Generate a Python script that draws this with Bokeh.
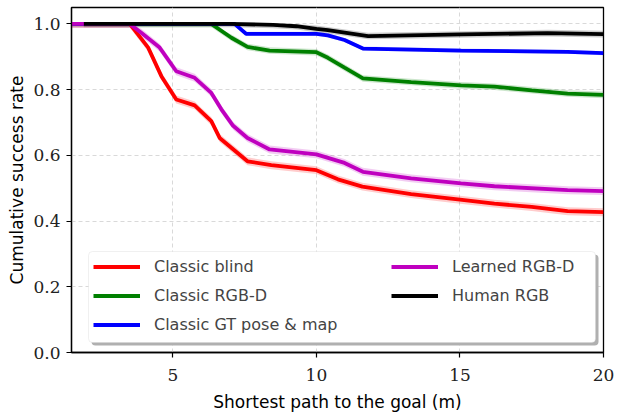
from bokeh.plotting import figure
from bokeh.models import Legend, LegendItem, BoxAnnotation, Range1d, FixedTicker, PrintfTickFormatter
from bokeh.embed import file_html
from bokeh.resources import INLINE

# ---- data ----
blind_x = [1.47, 3.5, 4.14, 4.6, 5.12, 5.76, 6.34, 6.63, 7.6, 8.43, 10.0, 10.75, 11.6, 13.3, 15.0, 16.2, 17.5, 18.75, 20.0]
blind_y = [1.0, 1.0, 0.928, 0.841, 0.77, 0.752, 0.704, 0.653, 0.582, 0.57, 0.555, 0.527, 0.505, 0.482, 0.465, 0.453, 0.443, 0.43, 0.427]

rgbd_x = [1.47, 6.34, 7.04, 7.6, 8.37, 10.0, 10.4, 10.98, 11.62, 13.3, 15.04, 16.2, 17.5, 18.75, 20.0]
rgbd_y = [1.0, 1.0, 0.958, 0.93, 0.919, 0.914, 0.897, 0.867, 0.834, 0.823, 0.813, 0.809, 0.798, 0.788, 0.784]

gt_x = [1.47, 7.15, 7.55, 10.0, 10.4, 10.98, 11.62, 15.04, 18.75, 20.0]
gt_y = [1.0, 1.0, 0.97, 0.97, 0.965, 0.951, 0.925, 0.919, 0.915, 0.911]

learned_x = [1.47, 3.5, 3.9, 4.54, 5.12, 5.76, 6.34, 6.69, 7.1, 7.6, 8.37, 10.0, 10.98, 11.62, 13.3, 15.04, 16.2, 18.75, 20.0]
learned_y = [1.0, 1.0, 0.973, 0.928, 0.856, 0.836, 0.79, 0.74, 0.69, 0.653, 0.618, 0.603, 0.577, 0.55, 0.53, 0.515, 0.506, 0.494, 0.491]

human_x = [1.9, 7.0, 8.5, 9.3, 10.0, 10.4, 11.8, 15.04, 18.05, 20.0]
human_y = [1.0, 1.0, 0.997, 0.993, 0.985, 0.981, 0.963, 0.968, 0.972, 0.969]

band = [0.012, 0.01, 0.006, 0.012, 0.01]  # half-width of the shaded band per series

series_names = ["Classic blind", "Classic RGB-D", "Classic GT pose & map", "Learned RGB-D", "Human RGB"]
series_colors = ["#ff0000", "#008000", "#0000ff", "#bf00bf", "#000000"]
series_x = [blind_x, rgbd_x, gt_x, learned_x, human_x]
series_y = [blind_y, rgbd_y, gt_y, learned_y, human_y]

x_ticks = [5, 10, 15, 20]
y_ticks = [0.0, 0.2, 0.4, 0.6, 0.8, 1.0]

p = figure(width=615, height=405, output_backend="svg", toolbar_location=None,
           x_range=Range1d(1.47, 20.0), y_range=Range1d(0.0, 1.05))
p.min_border_left = 71
p.min_border_right = 12
p.min_border_top = 7
p.min_border_bottom = 53
p.frame_width = 532
p.frame_height = 345

p.outline_line_color = "black"
p.outline_line_width = 1.3
p.background_fill_color = "white"
p.border_fill_color = "white"

for ax in (p.xaxis[0], p.yaxis[0]):
    ax.axis_line_color = "black"
    ax.axis_line_width = 1.3
    ax.major_tick_in = 0
    ax.major_tick_out = 5
    ax.major_tick_line_width = 1.2
    ax.minor_tick_line_color = None
    ax.major_label_text_font = "DejaVu Serif"
    ax.major_label_text_font_size = "17px"
    ax.major_label_text_color = "#222222"
    ax.axis_label_text_font = "DejaVu Sans"
    ax.axis_label_text_font_size = "17px"
    ax.axis_label_text_font_style = "normal"
    ax.axis_label_text_color = "black"

p.xaxis[0].ticker = FixedTicker(ticks=x_ticks)
p.yaxis[0].ticker = FixedTicker(ticks=y_ticks)
p.yaxis[0].formatter = PrintfTickFormatter(format="%.1f")
p.xaxis[0].axis_label = "Shortest path to the goal (m)"
p.yaxis[0].axis_label = "Cumulative success rate"
p.xaxis[0].major_label_standoff = 11
p.yaxis[0].major_label_standoff = 6
p.xaxis[0].axis_label_standoff = 8
p.yaxis[0].axis_label_standoff = 3

for g in (p.xgrid[0], p.ygrid[0]):
    g.grid_line_color = "#d9d9d9"
    g.grid_line_dash = "4 3"
    g.grid_line_width = 1
p.xgrid[0].ticker = FixedTicker(ticks=x_ticks)
p.ygrid[0].ticker = FixedTicker(ticks=y_ticks)

legend_renderers = []
for name, c, xs, ys, b in zip(series_names, series_colors, series_x, series_y, band):
    lo = [v - b for v in ys]
    hi = [min(v + b, 1.0) for v in ys]
    p.varea(x=xs, y1=lo, y2=hi, fill_color=c, fill_alpha=0.2)
for name, c, xs, ys, b in zip(series_names, series_colors, series_x, series_y, band):
    legend_renderers.append(p.line(xs, ys, line_color=c, line_width=3.8))

# legend box with shadow
shadow = BoxAnnotation(left=20, right=527, bottom=7, top=98,
                       left_units="screen", right_units="screen",
                       bottom_units="screen", top_units="screen",
                       fill_color="#b0b0b0", fill_alpha=1.0, line_color=None,
                       border_radius=4)
box = BoxAnnotation(left=17, right=524, bottom=10, top=101,
                    left_units="screen", right_units="screen",
                    bottom_units="screen", top_units="screen",
                    fill_color="white", fill_alpha=1.0, line_color="#cccccc",
                    line_width=1, border_radius=4)
p.add_layout(shadow)
p.add_layout(box)

def make_legend(idx, loc):
    lg = Legend(items=[LegendItem(label=series_names[i], renderers=[legend_renderers[i]]) for i in idx],
                location=loc, orientation="vertical",
                glyph_width=47, glyph_height=21, label_height=21, spacing=8,
                label_standoff=14, padding=0, margin=0,
                label_text_font="DejaVu Sans", label_text_font_size="16px",
                border_line_color=None, background_fill_alpha=0.0)
    return lg

p.add_layout(make_legend([0, 1, 2], (22, 17)))
p.add_layout(make_legend([3, 4], (320, 46)))

open("out.html", "w").write(file_html(p, INLINE))
